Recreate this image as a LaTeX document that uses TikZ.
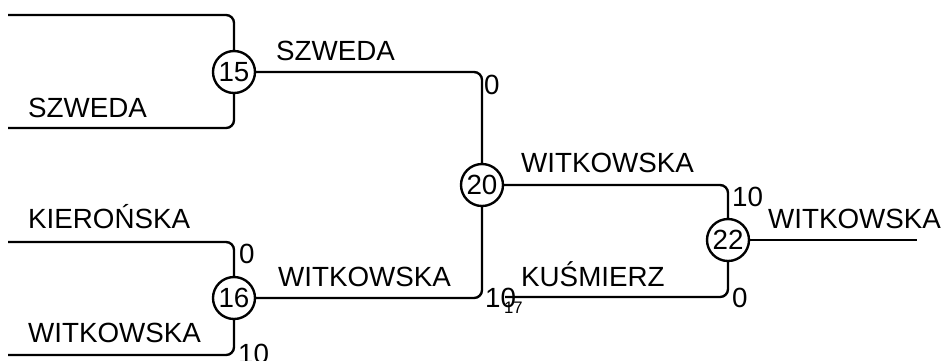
\documentclass[tikz,border=0pt]{standalone}
\usepackage{fontspec}
\setmainfont{Liberation Sans}

\begin{document}
\begin{tikzpicture}[x=0.02cm,y=-0.02cm,line width=1.35pt,
	mecz/.style={draw,circle,inner sep=0pt,minimum size=0.84cm,
		font=\fontsize{15.8pt}{19pt}\selectfont},
	gracz/.style={anchor=base west,inner sep=0pt,
		font=\fontsize{15.8pt}{19pt}\selectfont},
	wynik/.style={inner sep=0pt,font=\fontsize{15.8pt}{19pt}\selectfont},
	drabinka/.style={rounded corners=4.5pt}]

\useasboundingbox (0,0) rectangle (944,360);

% mecze
\node[mecz] (m15) at (234,72) {15};
\node[mecz] (m16) at (234,298) {16};
\node[mecz] (m20) at (482,185) {20};
\node[mecz] (m22) at (728,240) {22};

% wolne konce linii
\coordinate (a15) at (8,15);
\coordinate (b15) at (8,128);
\coordinate (a16) at (8,242);
\coordinate (b16) at (8,355);
\coordinate (b22) at (505,297);
\coordinate (fin) at (917,240);

\draw[drabinka] (a15) -| (m15.north);
\draw[drabinka] (b15) -| (m15.south);
\draw[drabinka] (a16) -| (m16.north);
\draw[drabinka] (b16) -| (m16.south);
\draw[drabinka] (m15.east) -| (m20.north);
\draw[drabinka] (m16.east) -| (m20.south);
\draw[drabinka] (m20.east) -| (m22.north);
\draw[drabinka] (b22) -| (m22.south);
\draw (m22.east) -- (fin);

% nazwiska
\node[gracz] (n1) at (27,117) {SZWEDA};
\node[gracz] (n2) at (27,228) {KIEROŃSKA};
\node[gracz] (n3) at (27,342) {WITKOWSKA};
\node[gracz] (n4) at (275,60) {SZWEDA};
\node[gracz] (n5) at (277,286) {WITKOWSKA};
\node[gracz] (n6) at (520,172) {WITKOWSKA};
\node[gracz] (n7) at (520,286) {KUŚMIERZ};
\node[gracz] (n8) at (767,228) {WITKOWSKA};

% wyniki
\node[wynik,anchor=north west] (w1) at (483,74) {0};
\node[wynik,anchor=west] (w2) at (484,297.5) {10};
\node[wynik,anchor=north west] (w3) at (731,186) {10};
\node[wynik,anchor=west] (w4) at (731,298) {0};
\node[wynik,anchor=north west] (w5) at (238,243) {0};
\node[wynik,anchor=west] (w6) at (237,354) {10};
\node[inner sep=0pt,anchor=north west,font=\fontsize{9.5pt}{10pt}\selectfont]
	(m17) at (503,301) {17};

\end{tikzpicture}
\end{document}
